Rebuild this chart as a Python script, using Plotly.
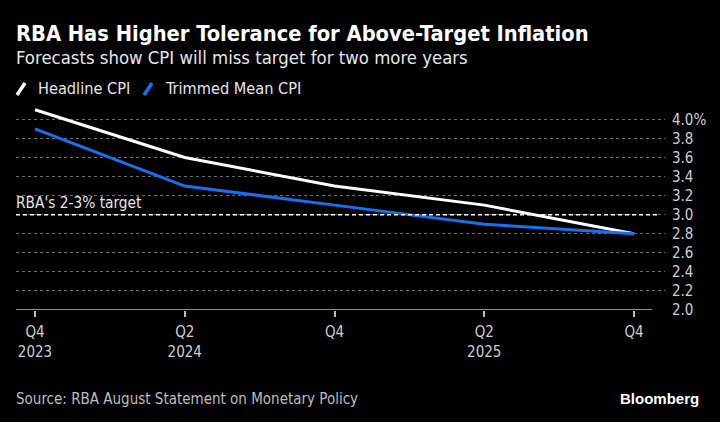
import plotly.graph_objects as go

# ---- data ----
quarters = [0, 2, 4, 6, 8]  # quarter index from Q4 2023
headline_cpi = [4.1, 3.6, 3.3, 3.1, 2.8]
trimmed_mean_cpi = [3.9, 3.3, 3.1, 2.9, 2.8]
x_tick_vals = [0, 2, 4, 6, 8]
x_tick_text = ["Q4<br>2023", "Q2<br>2024", "Q4", "Q2<br>2025", "Q4"]
y_tick_vals = [2.0, 2.2, 2.4, 2.6, 2.8, 3.0, 3.2, 3.4, 3.6, 3.8, 4.0]
y_tick_text = ["2.0", "2.2", "2.4", "2.6", "2.8", "3.0", "3.2", "3.4", "3.6", "3.8", "4.0%"]
target_level = 3.0

W, H = 720, 422
ML, MR, MT, MB = 16, 55, 105, 112
PW, PH = W - ML - MR, H - MT - MB

def px(x):
    return (x - ML) / PW

def py(y):
    return (H - MB - y) / PH

FONT = "DejaVu Sans Condensed, DejaVu Sans, sans-serif"
WHITE = "#ffffff"
BLUE = "#1a6fef"
GREY = "#cfcfcf"

fig = go.Figure()
fig.add_trace(go.Scatter(x=quarters, y=headline_cpi, mode="lines",
                         line=dict(color=WHITE, width=3), name="Headline CPI",
                         showlegend=False))
fig.add_trace(go.Scatter(x=quarters, y=trimmed_mean_cpi, mode="lines",
                         line=dict(color=BLUE, width=3), name="Trimmed Mean CPI",
                         showlegend=False))

# target line
fig.add_shape(type="line", xref="paper", yref="y", x0=0, x1=px(660),
              y0=target_level, y1=target_level,
              line=dict(color=WHITE, width=1.5, dash="4px,3px"))
fig.add_annotation(xref="paper", yref="y", x=0, y=target_level, yshift=1, xshift=-2,
                   text="RBA's 2-3% target", showarrow=False,
                   xanchor="left", yanchor="bottom",
                   font=dict(family=FONT, size=15.3, color="#e6e6e6"))

# x axis baseline
fig.add_shape(type="line", xref="paper", yref="y", x0=0, x1=px(652),
              y0=2.0, y1=2.0, line=dict(color="#bdbdbd", width=1.5))

# custom legend
fig.add_shape(type="line", xref="paper", yref="paper", x0=px(17), x1=px(25),
              y0=py(95), y1=py(83), line=dict(color=WHITE, width=3.5))
fig.add_shape(type="line", xref="paper", yref="paper", x0=px(144), x1=px(152),
              y0=py(95), y1=py(83), line=dict(color=BLUE, width=3.5))
fig.add_annotation(xref="paper", yref="paper", x=px(36), y=py(89),
                   text="Headline CPI", showarrow=False, xanchor="left",
                   yanchor="middle", font=dict(family=FONT, size=16.2, color="#e6e6e6"))
fig.add_annotation(xref="paper", yref="paper", x=px(163), y=py(89),
                   text="Trimmed Mean CPI", showarrow=False, xanchor="left",
                   yanchor="middle", font=dict(family=FONT, size=16.2, color="#e6e6e6"))

# title / subtitle / source / logo
fig.add_annotation(xref="paper", yref="paper", x=px(14), y=py(34),
                   text="<b>RBA Has Higher Tolerance for Above-Target Inflation</b>",
                   showarrow=False, xanchor="left", yanchor="middle",
                   font=dict(family=FONT, size=21.7, color=WHITE))
fig.add_annotation(xref="paper", yref="paper", x=px(14), y=py(57),
                   text="Forecasts show CPI will miss target for two more years",
                   showarrow=False, xanchor="left", yanchor="middle",
                   font=dict(family=FONT, size=18.4, color="#e6e6e6"))
fig.add_annotation(xref="paper", yref="paper", x=px(14), y=py(399),
                   text="Source: RBA August Statement on Monetary Policy",
                   showarrow=False, xanchor="left", yanchor="middle",
                   font=dict(family=FONT, size=15, color="#bdbdbd"))
fig.add_annotation(xref="paper", yref="paper", x=px(701), y=py(398),
                   text="<b>Bloomberg</b>",
                   showarrow=False, xanchor="right", yanchor="middle",
                   font=dict(family="Liberation Sans, Arial, sans-serif", size=15, color=WHITE))

fig.update_layout(
    width=W, height=H,
    margin=dict(l=ML, r=MR, t=MT, b=MB),
    paper_bgcolor="#000000", plot_bgcolor="#000000",
    showlegend=False,
    xaxis=dict(range=[-0.254, 8.414], tickvals=x_tick_vals, ticktext=x_tick_text,
               showgrid=False, zeroline=False, showline=False,
               ticks="outside", ticklen=6, tickcolor="#bdbdbd", tickwidth=1.5,
               ticklabelstandoff=2,
               tickfont=dict(family=FONT, size=15, color=GREY), fixedrange=True),
    yaxis=dict(range=[2.0, 4.15], tickvals=y_tick_vals, ticktext=y_tick_text,
               side="right", showgrid=True, gridcolor="#6a6a6a", griddash="dot",
               gridwidth=1, zeroline=False, showline=False, ticks="",
               ticklabelstandoff=6,
               tickfont=dict(family=FONT, size=15, color=GREY), fixedrange=True),
)

fig.write_html("out.html")
